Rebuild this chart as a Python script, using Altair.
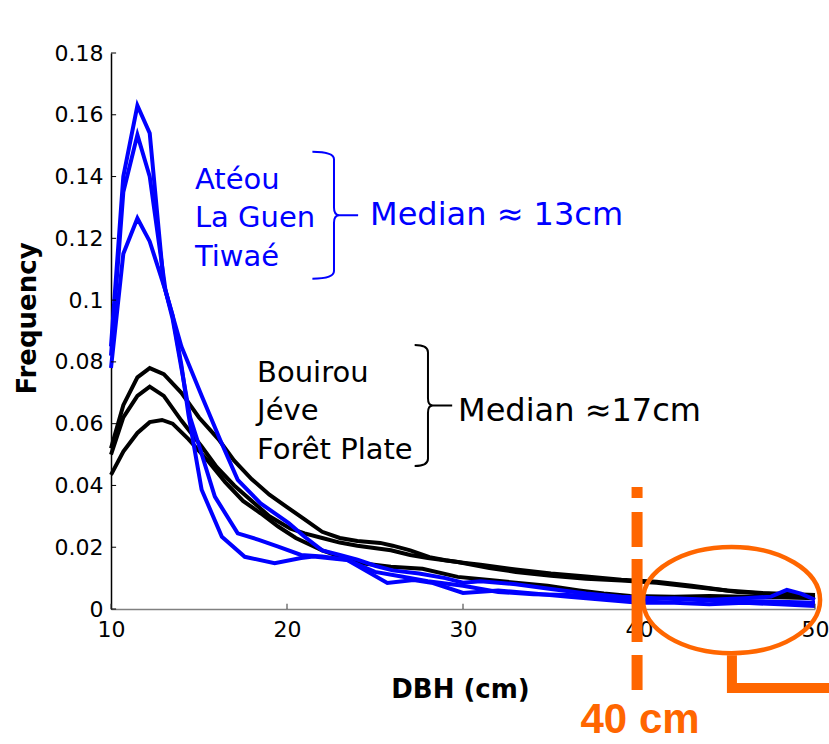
import altair as alt
import pandas as pd

# ---------------- data ----------------
ateou_x = [10, 10.7, 11.5, 12.2, 13, 13.5, 14, 14.4, 15.15, 16.3, 17.6, 19.3, 20.8, 21.5, 23.4, 25.7, 27.2, 28.3, 30, 32, 34, 36, 38, 40, 42, 44, 46, 48, 50]
ateou_y = [0.085, 0.14, 0.163, 0.154, 0.105, 0.095, 0.079, 0.063, 0.0386, 0.0234, 0.0169, 0.0148, 0.0165, 0.017, 0.0159, 0.0084, 0.0094, 0.0084, 0.0052, 0.006, 0.005, 0.004, 0.003, 0.002, 0.002, 0.0015, 0.002, 0.0015, 0.001]

laguen_x = [10, 10.7, 11.5, 12.2, 13.1, 13.5, 14, 14.5, 14.9, 15.9, 17.2, 18.4, 19.5, 20.8, 22, 23.4, 25, 26.5, 28, 30, 32, 34, 36, 38, 40, 42, 44, 46, 47.5, 48.4, 49.2, 50]
laguen_y = [0.082, 0.135, 0.1535, 0.14, 0.103, 0.094, 0.078, 0.062, 0.0548, 0.0364, 0.0245, 0.0224, 0.0202, 0.0175, 0.017, 0.016, 0.012, 0.0105, 0.009, 0.0075, 0.0055, 0.0048, 0.0045, 0.004, 0.003, 0.0035, 0.003, 0.0035, 0.004, 0.0062, 0.005, 0.003]

tiwae_x = [10, 10.7, 11.5, 12.2, 13.1, 14, 15.15, 16.2, 17.2, 18.5, 20.1, 21, 22, 23, 24, 25, 26, 27.5, 29, 30, 31, 33, 35, 37, 39, 41, 43, 45, 47, 50]
tiwae_y = [0.078, 0.115, 0.1265, 0.119, 0.103, 0.085, 0.069, 0.0548, 0.0418, 0.0342, 0.0278, 0.0234, 0.019, 0.0175, 0.016, 0.014, 0.0125, 0.0115, 0.01, 0.0085, 0.009, 0.008, 0.0065, 0.005, 0.004, 0.0035, 0.003, 0.0025, 0.0025, 0.002]

bouirou_x = [10, 10.7, 11.5, 12.2, 13, 14, 15, 16.1, 17, 18, 19, 20, 21, 22, 23, 24, 25.3, 26, 27, 28.1, 29, 30, 31, 33, 35, 37, 39, 41, 43, 45.6, 48, 50]
bouirou_y = [0.052, 0.066, 0.075, 0.078, 0.076, 0.07, 0.062, 0.055, 0.048, 0.042, 0.037, 0.033, 0.029, 0.025, 0.023, 0.022, 0.0214, 0.0205, 0.019, 0.0168, 0.0158, 0.015, 0.0143, 0.0128, 0.0115, 0.0105, 0.0095, 0.0088, 0.0075, 0.0055, 0.0047, 0.004]

jeve_x = [10, 10.7, 11.5, 12.2, 13, 14, 15.15, 16, 17, 18, 19, 20.2, 21, 22, 23, 24, 25.9, 27, 28, 29.7, 31.5, 33, 35, 37, 39, 41, 43, 45, 47, 50]
jeve_y = [0.05, 0.062, 0.069, 0.072, 0.069, 0.061, 0.0526, 0.046, 0.04, 0.035, 0.03, 0.026, 0.0245, 0.023, 0.0215, 0.0205, 0.019, 0.0175, 0.0165, 0.0152, 0.0133, 0.012, 0.0108, 0.0098, 0.0092, 0.0085, 0.0072, 0.006, 0.0052, 0.0045]

foret_x = [10, 10.7, 11.5, 12.2, 12.9, 13.5, 14.4, 15.5, 16.5, 17.5, 18.5, 19.5, 20.5, 22, 24, 25.9, 27.7, 29.7, 31.5, 33, 34.8, 36.6, 38, 39.5, 42, 44, 46, 48, 50]
foret_y = [0.0434, 0.051, 0.057, 0.0605, 0.0612, 0.06, 0.055, 0.048, 0.041, 0.035, 0.031, 0.0267, 0.023, 0.019, 0.015, 0.0137, 0.013, 0.0104, 0.0094, 0.0085, 0.0075, 0.006, 0.005, 0.0042, 0.004, 0.0042, 0.004, 0.0038, 0.0035]

blue_names = ["Atéou", "La Guen", "Tiwaé"]
black_names = ["Bouirou", "Jéve", "Forêt Plate"]
x_ticks = [10, 20, 30, 40, 50]
y_ticks = [0, 0.02, 0.04, 0.06, 0.08, 0.1, 0.12, 0.14, 0.16, 0.18]

BLUE = "#0000ff"
ORANGE = "#ff6600"
FONT = "DejaVu Sans"

rows = []
for name, grp, xs, ys in [
    ("Atéou", "blue", ateou_x, ateou_y),
    ("La Guen", "blue", laguen_x, laguen_y),
    ("Tiwaé", "blue", tiwae_x, tiwae_y),
    ("Bouirou", "black", bouirou_x, bouirou_y),
    ("Jéve", "black", jeve_x, jeve_y),
    ("Forêt Plate", "black", foret_x, foret_y),
]:
    for x, y in zip(xs, ys):
        rows.append({"site": name, "group": grp, "dbh": x, "freq": y})
df = pd.DataFrame(rows)

xsc = alt.Scale(domain=[10, 50], nice=False, zero=False)
ysc = alt.Scale(domain=[0, 0.18], nice=False, zero=False)

x_axis = alt.Axis(values=x_ticks, format="d", labelFont=FONT, labelFontSize=22, labelColor="black",
                  domainColor="#808080", domainWidth=1.5, ticks=False, labelPadding=10, grid=False,
                  title="DBH (cm)", titleFont=FONT, titleFontSize=26, titleFontWeight="bold",
                  titleColor="black", titleX=349, titleY=80, titleBaseline="middle", labelFlush=False)
y_axis = alt.Axis(values=y_ticks, format="~g", labelFont=FONT, labelFontSize=22, labelColor="black",
                  domainColor="black", domainWidth=1.5, ticks=False, labelPadding=8, grid=False,
                  title="Frequency", titleFont=FONT, titleFontSize=26, titleFontWeight="bold",
                  titleColor="black", titleX=-84, titleY=265, titleBaseline="middle", labelFlush=False)

X = alt.X("dbh:Q", scale=xsc, axis=x_axis)
Y = alt.Y("freq:Q", scale=ysc, axis=y_axis)

black_lines = alt.Chart(df[df.group == "black"]).mark_line(strokeWidth=4, color="black").encode(
    x=X, y=Y, detail="site:N")
blue_lines = alt.Chart(df[df.group == "blue"]).mark_line(strokeWidth=4, color=BLUE).encode(
    x=X, y=Y, detail="site:N")

# inward ticks
ytk = pd.DataFrame({"freq": y_ticks, "dbh": [10] * len(y_ticks), "dbh2": [10.29] * len(y_ticks)})
ytick_layer = alt.Chart(ytk).mark_rule(color="black", strokeWidth=1).encode(x=X, x2="dbh2:Q", y=Y)
xtk = pd.DataFrame({"dbh": x_ticks, "freq": [0] * len(x_ticks), "freq2": [0.0017] * len(x_ticks)})
xtick_layer = alt.Chart(xtk).mark_rule(color="#333333", strokeWidth=1).encode(x=X, y=Y, y2="freq2:Q")

def text_layer(d, color, size, weight="normal", font=FONT, align="left", baseline="alphabetic"):
    return alt.Chart(pd.DataFrame(d)).mark_text(
        color=color, fontSize=size, fontWeight=weight, font=font, align=align, baseline=baseline
    ).encode(x=X, y=Y, text="label:N")

blue_text = text_layer({"label": blue_names, "dbh": [14.77] * 3, "freq": [0.1360, 0.1237, 0.1111]}, BLUE, 29)
black_text = text_layer({"label": black_names, "dbh": [18.3] * 3, "freq": [0.0735, 0.0612, 0.0486]}, "black", 29)
blue_med = text_layer({"label": ["Median ≈ 13cm"], "dbh": [24.72], "freq": [0.1244]}, BLUE, 32)
black_med = text_layer({"label": ["Median ≈17cm"], "dbh": [29.72], "freq": [0.0609]}, "black", 32)
cm40 = text_layer({"label": ["40 cm"], "dbh": [40.06], "freq": [-0.036]}, ORANGE, 42, "bold",
                  "Liberation Sans", "center", "middle")

brace_path = "M-0.34,-1 Q0,-1 0,-0.88 L0,-0.12 Q0,0 0.08,0 L0.38,0 M0.08,0 Q0,0 0,0.12 L0,0.88 Q0,1 -0.34,1"
brace_path2 = "M-0.22,-1 Q0,-1 0,-0.88 L0,-0.12 Q0,0 0.08,0 L0.4,0 M0.08,0 Q0,0 0,0.12 L0,0.88 Q0,1 -0.22,1"

def shape_layer(d, path, size, color, width):
    return alt.Chart(pd.DataFrame(d)).mark_point(
        shape=path, size=size, filled=False, stroke=color, strokeWidth=width, opacity=1
    ).encode(x=X, y=Y)

blue_brace = shape_layer({"dbh": [22.67], "freq": [0.1275]}, brace_path, 127 ** 2, BLUE, 2)
black_brace = shape_layer({"dbh": [28.01], "freq": [0.0659]}, brace_path2, 121 ** 2, "black", 2)

ellipse_path = ("M-1,0 C-1,-0.331 -0.552,-0.6 0,-0.6 C0.552,-0.6 1,-0.331 1,0 "
                "C1,0.331 0.552,0.6 0,0.6 C-0.552,0.6 -1,0.331 -1,0 Z")
ellipse = shape_layer({"dbh": [45.26], "freq": [0.0029]}, ellipse_path, 177 ** 2, ORANGE, 4.5)

cut = pd.DataFrame({"dbh": [39.89], "freq": [0.0395], "freq2": [-0.0262]})
cut_line = alt.Chart(cut).mark_rule(color=ORANGE, strokeWidth=11,
                                    strokeDash=[11, 14, 35, 12, 83, 13, 40, 10]).encode(
    x=X, y=Y, y2="freq2:Q")

ell = pd.DataFrame({"dbh": [45.28, 45.28, 63], "freq": [-0.0150, -0.0256, -0.0256], "o": [0, 1, 2]})
l_shape = alt.Chart(ell).mark_line(color=ORANGE, strokeWidth=10, strokeCap="butt", strokeJoin="miter").encode(
    x=X, y=Y, order="o:Q")

chart = alt.layer(
    black_lines, blue_lines, ytick_layer, xtick_layer,
    blue_text, black_text, blue_med, black_med, blue_brace, black_brace,
    ellipse, cut_line, l_shape, cm40,
).properties(
    width=704, height=556,
    padding={"left": 111, "top": 53, "right": 14, "bottom": 135},
    autosize=alt.AutoSizeParams(type="none"),
    background="white",
).configure_view(stroke=None)

chart.save("out.html", embed_options={"renderer": "svg", "actions": False})
